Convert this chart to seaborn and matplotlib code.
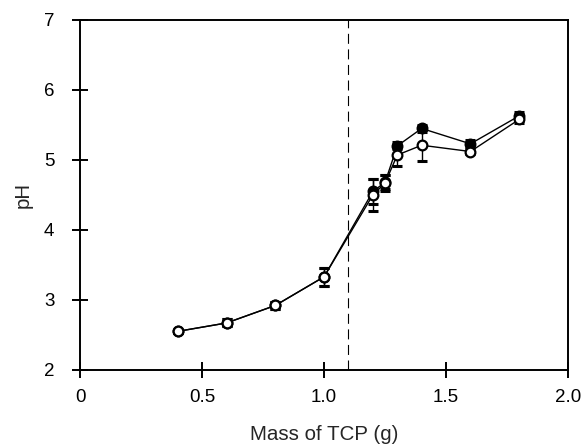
import numpy as np
import pandas as pd
import matplotlib
matplotlib.use("Agg")
import matplotlib.pyplot as plt
import seaborn as sns

# mass of TCP (g)
mass = [0.4, 0.6, 0.8, 1.0, 1.2, 1.25, 1.3, 1.4, 1.6, 1.8]
# pH, open circles
ph_open = [2.55, 2.67, 2.92, 3.33, 4.50, 4.67, 5.07, 5.21, 5.12, 5.58]
err_open = [0.02, 0.05, 0.05, 0.13, 0.23, 0.12, 0.15, 0.22, 0.04, 0.05]
# pH, filled circles
ph_fill = [2.55, 2.67, 2.92, 3.33, 4.55, 4.68, 5.20, 5.45, 5.23, 5.63]
err_fill = [0.02, 0.05, 0.05, 0.13, 0.18, 0.10, 0.05, 0.05, 0.05, 0.06]
vline_x = 1.1

df = pd.DataFrame({"mass": mass * 2,
                   "pH": ph_fill + ph_open,
                   "err": err_fill + err_open,
                   "series": ["filled"] * len(mass) + ["open"] * len(mass)})

sns.set_style("ticks")
plt.rcParams['font.family'] = ['Liberation Sans', 'DejaVu Sans']

fig = plt.figure(figsize=(5.85, 4.44), dpi=100)
ax = fig.add_axes([0.137, 0.167, 0.834, 0.788])

face = {"filled": "black", "open": "white"}
for s in ["filled", "open"]:
    d = df[df["series"] == s]
    ax.errorbar(d["mass"], d["pH"], yerr=d["err"], fmt="none", ecolor="black",
                elinewidth=1.0, capsize=3.6, capthick=2.2, zorder=2)
    sns.lineplot(data=d, x="mass", y="pH", ax=ax, color="black", linewidth=1.0,
                 marker="o", markersize=7, markerfacecolor=face[s],
                 markeredgecolor="black", markeredgewidth=1.6, zorder=3)

ax.axvline(vline_x, color="black", linestyle=(0, (9, 5)), linewidth=0.8, zorder=1)

ax.set_xlim(0, 2.0)
ax.set_ylim(2, 7)
ax.set_xticks([0, 0.5, 1.0, 1.5, 2.0])
ax.set_xticklabels(["0", "0.5", "1.0", "1.5", "2.0"])
ax.set_yticks([2, 3, 4, 5, 6, 7])
ax.tick_params(direction="inout", length=11, width=1.4, labelsize=13.5, colors="black")
ax.tick_params(axis="x", pad=8)
ax.tick_params(axis="y", pad=13)
for sp in ax.spines.values():
    sp.set_linewidth(1.4)
    sp.set_color("black")
ax.set_xlabel("Mass of TCP (g)", fontsize=14.8)
ax.set_ylabel("pH", fontsize=14.8)
ax.xaxis.set_label_coords(0.5, -0.186)
ax.yaxis.set_label_coords(-0.117, 0.5)
ax.xaxis.label.set_va("center")
ax.yaxis.label.set_va("center")

fig.savefig("out.png", dpi=100)
